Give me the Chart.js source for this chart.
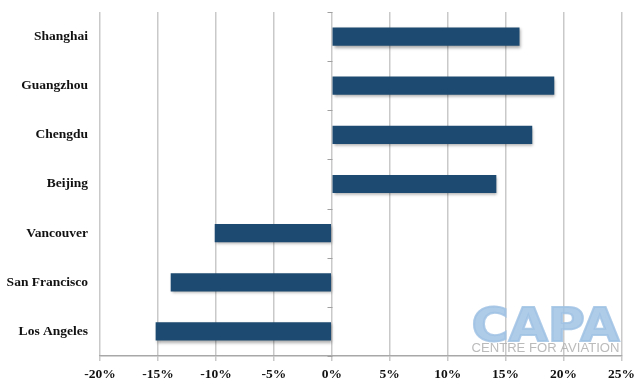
<!DOCTYPE html>
<html>
<head>
<meta charset="utf-8">
<script src="https://cdn.jsdelivr.net/npm/chart.js@4"></script>
<style>
  html, body { margin: 0; padding: 0; background: #fff; }
  #wrap { width: 640px; height: 385px; }
</style>
</head>
<body>
<div id="wrap"><canvas id="chart" width="640" height="385"></canvas></div>
<script>
// data
const cities = ["Shanghai", "Guangzhou", "Chengdu", "Beijing", "Vancouver", "San Francisco", "Los Angeles"];
const growth = [16.2, 19.2, 17.3, 14.2, -10.1, -13.9, -15.2];
const xTicks = [-20, -15, -10, -5, 0, 5, 10, 15, 20, 25];

const GRID = "#c9c9c9";
const SERIF = "'Liberation Serif', 'DejaVu Serif', serif";

/* ============================
   PLUGINS
============================ */

// vertical axis sits at 0 with small tick marks between categories
const zeroAxis = {
  id: "zeroAxis",
  beforeDatasetsDraw(chart) {
    const { ctx, scales: { x, y } } = chart;
    const x0 = Math.round(x.getPixelForValue(0)) + 0.5;
    ctx.save();
    ctx.strokeStyle = "#a0a0a0";
    ctx.lineWidth = 1;
    for (let i = 0; i <= cities.length; i++) {
      const yy = Math.round(y.getPixelForValue(i - 0.5)) + 0.5;
      ctx.beginPath();
      ctx.moveTo(x0 - 5, yy);
      ctx.lineTo(x0, yy);
      ctx.stroke();
    }
    ctx.restore();
  },
};

// CAPA watermark, bottom right of the plot
const watermark = {
  id: "watermark",
  beforeDatasetsDraw(chart) {
    const { ctx, chartArea } = chart;
    const right = chartArea.right - 2;
    const width = 148;
    const left = right - width;
    ctx.save();
    ctx.font = "bold 46px 'DejaVu Sans', Arial, sans-serif";
    const w = ctx.measureText("CAPA").width;
    ctx.translate(left, chartArea.bottom - 15);
    ctx.scale(width / w, 1);
    ctx.fillStyle = "rgba(160, 194, 228, 0.85)";
    ctx.strokeStyle = "rgba(160, 194, 228, 0.85)";
    ctx.lineWidth = 2;
    ctx.textBaseline = "alphabetic";
    ctx.fillText("CAPA", 0, 0);
    ctx.strokeText("CAPA", 0, 0);
    ctx.restore();

    ctx.save();
    ctx.font = "12px 'Liberation Sans', Arial, sans-serif";
    const w2 = ctx.measureText("CENTRE FOR AVIATION").width;
    ctx.translate(left, chartArea.bottom - 4);
    ctx.scale(width / w2, 1);
    ctx.fillStyle = "rgba(175, 175, 175, 0.85)";
    ctx.fillText("CENTRE FOR AVIATION", 0, 0);
    ctx.restore();
  },
};

// soft drop shadow under the bars
const barShadow = {
  id: "barShadow",
  beforeDatasetDraw(chart) {
    const ctx = chart.ctx;
    ctx.save();
    ctx.shadowColor = "rgba(0, 0, 0, 0.35)";
    ctx.shadowOffsetX = 1;
    ctx.shadowOffsetY = 2;
    ctx.shadowBlur = 3;
  },
  afterDatasetDraw(chart) {
    chart.ctx.restore();
  },
};

/* ============================
   CHART
============================ */

new Chart(document.getElementById("chart"), {
  type: "bar",
  data: {
    labels: cities,
    datasets: [
      {
        data: growth,
        backgroundColor: "#1c4a70",
        borderWidth: 0,
        barPercentage: 0.37,
        categoryPercentage: 1,
      },
    ],
  },
  options: {
    indexAxis: "y",
    responsive: false,
    animation: false,
    layout: { padding: { top: 12, right: 17, left: 0, bottom: 0 } },
    plugins: {
      legend: { display: false },
      tooltip: { enabled: false },
    },
    scales: {
      x: {
        min: -20,
        max: 25,
        afterBuildTicks(scale) {
          scale.ticks = xTicks.map((v) => ({ value: v }));
        },
        afterFit(scale) {
          scale.height = 29;
        },
        grid: {
          color: GRID,
          lineWidth: 1.5,
          tickLength: 5,
          drawTicks: true,
        },
        border: { display: true, color: "#a8a8a8", width: 1.5 },
        ticks: {
          padding: 5,
          color: "#111",
          font: { family: SERIF, size: 13.5, weight: "bold" },
          callback: (v) => v + "%",
          maxRotation: 0,
        },
      },
      y: {
        afterFit(scale) {
          scale.width = 100;
          scale.paddingTop = 0;
          scale.paddingBottom = 0;
        },
        grid: { display: false },
        border: { display: false },
        ticks: {
          padding: 4,
          color: "#111",
          font: { family: SERIF, size: 13.5, weight: "bold" },
        },
      },
    },
  },
  plugins: [zeroAxis, watermark, barShadow],
});
</script>
</body>
</html>
